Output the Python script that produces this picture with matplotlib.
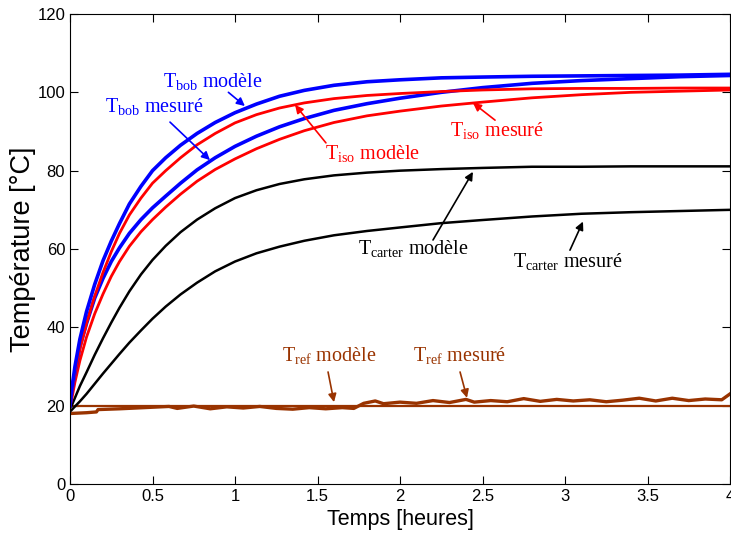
import matplotlib
matplotlib.use('Agg')
import matplotlib.pyplot as plt

# temps en heures (lecture sur la figure)
t = [0, 0.01, 0.03, 0.06, 0.1, 0.15, 0.2, 0.25, 0.3, 0.36, 0.43, 0.5, 0.58, 0.67,
     0.77, 0.88, 1.0, 1.13, 1.27, 1.42, 1.6, 1.8, 2.0, 2.25, 2.5, 2.8, 3.1, 3.4,
     3.7, 4.0]

T_bob_modele = [20, 24, 30, 37, 44, 51, 57, 62, 66.5, 71.5, 76, 80, 83.3, 86.5,
                89.5, 92.3, 94.8, 97, 99, 100.5, 101.8, 102.7, 103.2, 103.7, 103.9,
                104.1, 104.2, 104.3, 104.4, 104.6]
T_bob_mesure = [20, 23.5, 28.5, 35, 41, 47.5, 52.5, 56.8, 60.3, 64, 67.5, 70.5, 73.5,
                76.8, 80.2, 83.3, 86.2, 88.8, 91.2, 93.3, 95.4, 97.1, 98.5, 100, 101.2,
                102.3, 103, 103.5, 104, 104.3]
T_iso_modele = [20, 23, 28.5, 34.5, 41, 48, 54, 59.3, 64, 68.7, 73, 76.8, 80, 83.3,
                86.6, 89.5, 92.2, 94.3, 96, 97.3, 98.4, 99.2, 99.7, 100.2, 100.6,
                100.9, 101, 101, 101.1, 101.1]
T_iso_mesure = [20, 21.5, 26, 31.5, 37.5, 43.5, 48.5, 53, 56.8, 60.7, 64.4, 67.5, 70.7,
                74, 77.3, 80.3, 83, 85.6, 88, 90.2, 92.3, 94, 95.2, 96.5, 97.5, 98.6,
                99.4, 100, 100.3, 100.6]
T_carter_modele = [19.5, 20, 22, 25, 28.5, 33, 37.2, 41.2, 45, 49.2, 53.5, 57.2, 60.8,
                   64.3, 67.5, 70.4, 73, 75, 76.6, 77.8, 78.8, 79.5, 80, 80.4, 80.7,
                   81, 81, 81.1, 81.1, 81.1]
T_carter_mesure = [18.5, 18.9, 19.8, 21.1, 23, 25.6, 28.2, 30.7, 33.2, 36.1, 39.2,
                   42.2, 45.3, 48.4, 51.4, 54.3, 56.8, 58.9, 60.6, 62.1, 63.5, 64.6,
                   65.5, 66.6, 67.4, 68.3, 69, 69.4, 69.7, 70]

t_ref_modele = [0, 4]
T_ref_modele = [20, 20]

t_ref_mesure = [0, 0.1, 0.16, 0.17, 0.3, 0.45, 0.6, 0.65, 0.75, 0.85, 0.95, 1.05,
                1.15, 1.25, 1.35, 1.45, 1.55, 1.65, 1.72, 1.78, 1.85, 1.9, 2.0, 2.1,
                2.2, 2.3, 2.4, 2.45, 2.55, 2.65, 2.75, 2.85, 2.95, 3.05, 3.15, 3.25,
                3.35, 3.45, 3.55, 3.65, 3.75, 3.85, 3.95, 4.0]
T_ref_mesure = [18, 18.2, 18.4, 19, 19.2, 19.5, 19.8, 19.3, 19.9, 19.2, 19.7, 19.4,
                19.8, 19.3, 19.1, 19.5, 19.2, 19.5, 19.3, 20.6, 21.2, 20.5, 20.9, 20.6,
                21.3, 20.8, 21.6, 20.9, 21.3, 21.0, 21.8, 21.1, 21.6, 21.2, 21.5, 21.0,
                21.4, 21.9, 21.2, 21.9, 21.3, 21.7, 21.5, 23]

brown = '#993300'

plt.rcParams['mathtext.fontset'] = 'custom'
plt.rcParams['mathtext.rm'] = 'Liberation Serif'
plt.rcParams['font.family'] = 'Liberation Sans'

fig = plt.figure(figsize=(7.31, 5.43), dpi=100)
ax = fig.add_axes([70 / 731, 59 / 543, 660 / 731, 470 / 543])

ax.plot(t_ref_modele, T_ref_modele, color=brown, lw=1.6)
ax.plot(t_ref_mesure, T_ref_mesure, color=brown, lw=2.4)
ax.plot(t, T_carter_modele, color='k', lw=1.8)
ax.plot(t, T_carter_mesure, color='k', lw=1.8)
ax.plot(t, T_iso_mesure, color='r', lw=2.0)
ax.plot(t, T_bob_mesure, color='b', lw=2.6)
ax.plot(t, T_iso_modele, color='r', lw=2.0)
ax.plot(t, T_bob_modele, color='b', lw=2.6)

# annotations : (texte, couleur, position du texte, pointe de la fleche, depart de la fleche)
notes = [
    (r'T$_{\mathrm{bob}}$ modèle', 'b', (0.564, 101.1), (1.06, 96.5), (0.96, 100.0)),
    (r'T$_{\mathrm{bob}}$ mesuré', 'b', (0.212, 94.7), (0.848, 82.7), (0.606, 92.4)),
    (r'T$_{\mathrm{iso}}$ modèle', 'r', (1.545, 82.7), (1.364, 96.8), (1.551, 87.1)),
    (r'T$_{\mathrm{iso}}$ mesuré', 'r', (2.303, 88.6), (2.442, 97.3), (2.576, 92.9)),
    (r'T$_{\mathrm{carter}}$ modèle', 'k', (1.745, 58.5), (2.442, 79.7), (2.2, 62.3)),
    (r'T$_{\mathrm{carter}}$ mesuré', 'k', (2.685, 55.1), (3.109, 67.0), (3.03, 59.7)),
    (r'T$_{\mathrm{ref}}$ modèle', brown, (1.285, 31.1), (1.6, 20.9), (1.564, 28.6)),
    (r'T$_{\mathrm{ref}}$ mesuré', brown, (2.079, 31.1), (2.406, 22.0), (2.364, 28.6)),
]
for txt, c, pos, head, tail in notes:
    ax.text(pos[0], pos[1], txt, color=c, fontsize=14.5, family='Liberation Serif',
            va='baseline', ha='left')
    ax.annotate('', xy=head, xytext=tail,
                arrowprops=dict(arrowstyle='-|>', color=c, lw=1.2, mutation_scale=12,
                                shrinkA=0, shrinkB=0))

ax.set_xlim(0, 4)
ax.set_ylim(0, 120)
ax.set_xticks([0, 0.5, 1, 1.5, 2, 2.5, 3, 3.5, 4])
ax.set_xticklabels(['0', '0.5', '1', '1.5', '2', '2.5', '3', '3.5', '4'])
ax.set_yticks([0, 20, 40, 60, 80, 100, 120])
ax.tick_params(direction='in', top=True, right=True, length=6, labelsize=12)
ax.set_xlabel('Temps [heures]', fontsize=15.5)
ax.set_ylabel('Température [°C]', fontsize=19.5, labelpad=1)

fig.savefig('out.png', dpi=100)
